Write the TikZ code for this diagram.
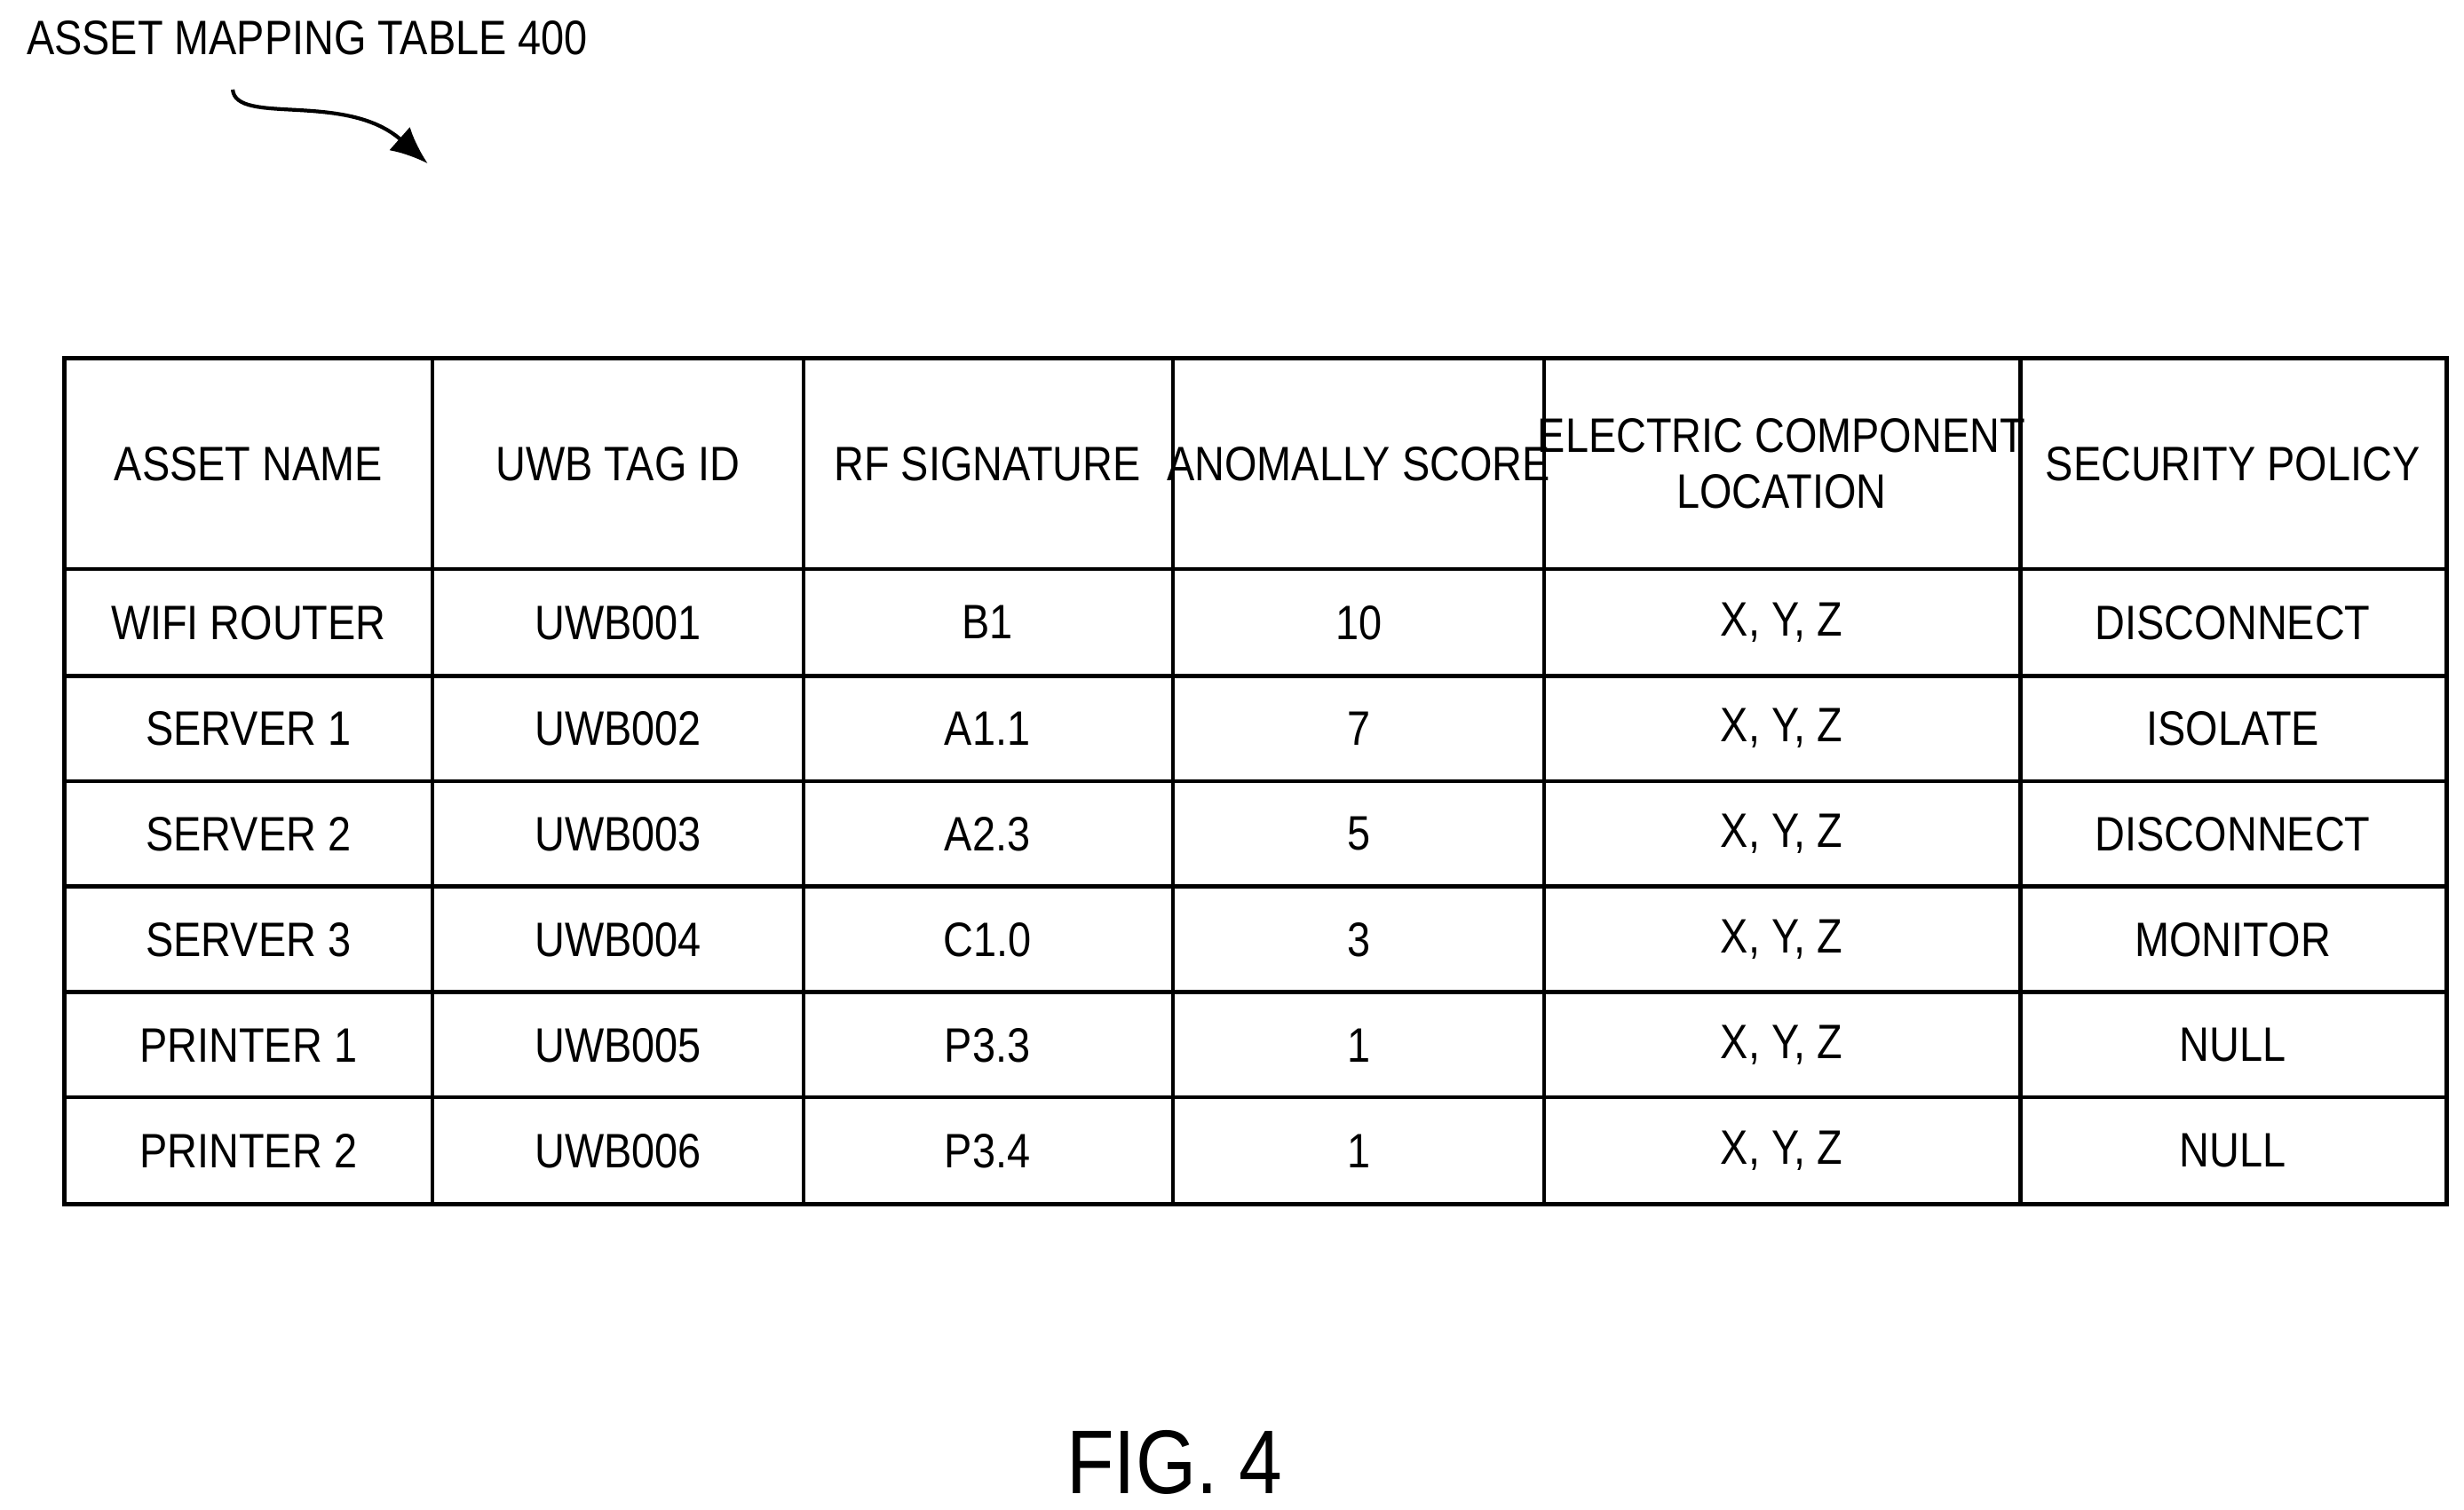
\documentclass[tikz,border=0pt]{standalone}
\usepackage{fontspec}
\setmainfont{Liberation Sans}[FakeStretch=0.86]
\usetikzlibrary{arrows.meta}
\begin{document}
\begin{tikzpicture}[x=0.01771cm,y=-0.01771cm,
  cell/.style={font=\fontsize{15.5}{18}\selectfont,align=center},
  grid/.style={line width=1.3pt}]
\useasboundingbox (0,0) rectangle (1567,960);
\node[anchor=west,font=\fontsize{15.5}{18}\selectfont] (title) at (10,24) {ASSET MAPPING TABLE 400};
\coordinate (a0) at (148,57);
\coordinate (a1) at (272,104);
\draw[line width=1.2pt,-{Latex[length=12pt,width=10pt]}] (a0) .. controls (150,80) and (220,58) .. (a1);
% table grid
\draw[grid] (41,228) rectangle (1556,766);
\foreach \y in {362,430,497,564,631,698} \draw[grid] (41,\y) -- (1556,\y);
\foreach \x in {275,511,746,982,1285} \draw[grid] (\x,228) -- (\x,766);
% header
\node[cell] (h1) at (158,295) {ASSET NAME};
\node[cell] (h2) at (393,295) {UWB TAG ID};
\node[cell] (h3) at (628,295) {RF SIGNATURE};
\node[cell] (h4) at (864,295) {ANOMALLY SCORE};
\node[cell] (h5) at (1133,295) {ELECTRIC COMPONENT\\LOCATION};
\node[cell] (h6) at (1420,295) {SECURITY POLICY};
\foreach \a/\b/\c/\d/\f [count=\i] in {
 WIFI ROUTER/UWB001/B1/10/DISCONNECT,
 SERVER 1/UWB002/A1.1/7/ISOLATE,
 SERVER 2/UWB003/A2.3/5/DISCONNECT,
 SERVER 3/UWB004/C1.0/3/MONITOR,
 PRINTER 1/UWB005/P3.3/1/NULL,
 PRINTER 2/UWB006/P3.4/1/NULL}{
  \pgfmathsetmacro\yy{396+67.2*(\i-1)}
  \node[cell] (r\i a) at (158,\yy) {\a};
  \node[cell] (r\i b) at (393,\yy) {\b};
  \node[cell] (r\i c) at (628,\yy) {\c};
  \node[cell] (r\i d) at (864,\yy) {\d};
  \node[cell] (r\i e) at (1133,\yy) {X, Y, Z};
  \node[cell] (r\i f) at (1420,\yy) {\f};
}
\node[font=\fontsize{29}{34}\selectfont] (fig) at (747,930) {FIG. 4};
\end{tikzpicture}
\end{document}
